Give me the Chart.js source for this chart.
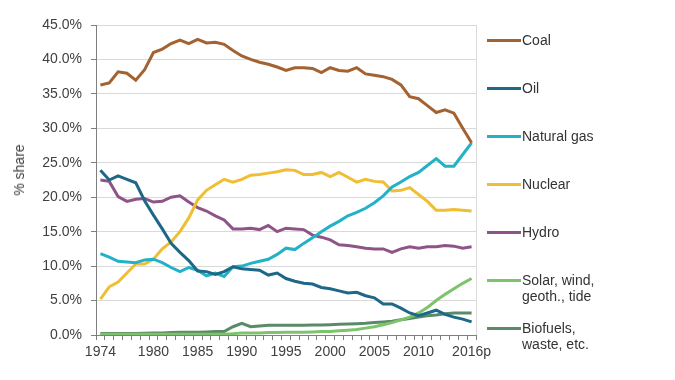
<!DOCTYPE html>
<html>
<head>
<meta charset="utf-8">
<script src="https://cdn.jsdelivr.net/npm/chart.js@4.4.1/dist/chart.umd.min.js"></script>
<style>
  html, body { margin: 0; padding: 0; background: #fff; }
  #wrap { position: relative; width: 675px; height: 380px; font-family: "Liberation Sans", Arial, sans-serif; }
  #c { position: absolute; left: 0; top: 0; }
  #ytitle { position: absolute; left: 19px; top: 170px; transform: translate(-50%, -50%) rotate(-90deg); font-size: 14px; color: #404040; white-space: nowrap; }
  .lg { position: absolute; left: 487px; display: flex; align-items: flex-start; font-size: 14px; line-height: 16px; color: #333; }
  .lg .ln { width: 34px; height: 3px; margin-top: 7px; margin-right: 1px; flex: none; }
  .lg .tx { white-space: pre; }
</style>
</head>
<body>
<div id="wrap">
  <canvas id="c" width="675" height="380"></canvas>
  <div id="ytitle">% share</div>
  <div id="legend"></div>
</div>
<script>
// ---- categories ----
const years = [1974,1975,1976,1977,1978,1979,1980,1981,1982,1983,1984,1985,1986,1987,1988,1989,1990,1991,1992,1993,1994,1995,1996,1997,1998,1999,2000,2001,2002,2003,2004,2005,2006,2007,2008,2009,2010,2011,2012,2013,2014,2015,2016];
const tickLabels = ['1974','','','','','','1980','','','','','1985','','','','','1990','','','','','1995','','','','','2000','','','','','2005','','','','','2010','','','','','','2016p'];
const yTicks = [0,5,10,15,20,25,30,35,40,45];

// ---- series (% share) ----
const coal = [36.3,36.6,38.2,38.0,37.0,38.5,41.0,41.5,42.3,42.8,42.3,42.9,42.4,42.5,42.2,41.3,40.5,40.0,39.6,39.3,38.9,38.4,38.8,38.8,38.7,38.1,38.8,38.4,38.3,38.8,37.9,37.7,37.5,37.1,36.3,34.6,34.3,33.3,32.3,32.7,32.2,30.0,27.9];
const oil = [23.9,22.5,23.1,22.6,22.1,19.5,17.4,15.4,13.3,12.0,10.8,9.3,9.2,8.8,9.2,9.9,9.6,9.5,9.4,8.7,9.0,8.2,7.8,7.5,7.4,6.9,6.7,6.4,6.1,6.2,5.7,5.4,4.5,4.5,3.9,3.2,2.8,3.2,3.6,3.0,2.6,2.3,1.9];
const naturalGas = [11.8,11.3,10.7,10.6,10.5,10.9,11.0,10.5,9.8,9.2,9.8,9.4,8.6,9.0,8.5,9.9,10.0,10.4,10.7,11.0,11.7,12.6,12.4,13.3,14.1,15.0,15.8,16.5,17.3,17.8,18.4,19.2,20.2,21.5,22.2,23.0,23.6,24.6,25.6,24.5,24.5,26.2,27.9];
const nuclear = [5.2,7.0,7.7,9.0,10.3,10.3,11.0,12.5,13.5,15.0,17.0,19.6,21.0,21.8,22.6,22.2,22.6,23.2,23.3,23.5,23.7,24.0,23.9,23.3,23.3,23.6,23.0,23.6,22.9,22.2,22.6,22.3,22.2,20.9,21.0,21.4,20.4,19.4,18.1,18.1,18.2,18.1,18.0];
const hydro = [22.5,22.3,20.1,19.4,19.7,19.8,19.3,19.4,20.0,20.2,19.3,18.5,18.0,17.3,16.7,15.4,15.4,15.5,15.3,15.9,15.0,15.5,15.4,15.3,14.5,14.2,13.8,13.1,13.0,12.8,12.6,12.5,12.5,12.0,12.5,12.8,12.6,12.8,12.8,13.0,12.9,12.6,12.8];
const solarWind = [0.1,0.1,0.1,0.1,0.1,0.1,0.1,0.1,0.1,0.1,0.1,0.1,0.1,0.1,0.1,0.2,0.3,0.3,0.3,0.35,0.35,0.4,0.4,0.4,0.45,0.5,0.5,0.6,0.7,0.8,1.0,1.2,1.5,1.8,2.2,2.6,3.2,4.0,5.0,5.9,6.7,7.5,8.2];
const biofuels = [0.2,0.2,0.2,0.2,0.2,0.25,0.3,0.3,0.35,0.4,0.4,0.4,0.45,0.5,0.5,1.2,1.7,1.2,1.3,1.4,1.4,1.4,1.4,1.4,1.45,1.45,1.5,1.55,1.6,1.65,1.7,1.8,1.9,2.0,2.2,2.4,2.6,2.8,2.9,3.1,3.2,3.2,3.2];

const seriesNames = ['Coal','Oil','Natural gas','Nuclear','Hydro','Solar, wind, geoth., tide','Biofuels, waste, etc.'];
const legendLabels = ['Coal','Oil','Natural gas','Nuclear','Hydro','Solar, wind,\ngeoth., tide','Biofuels,\nwaste, etc.'];
const seriesData = [coal, oil, naturalGas, nuclear, hydro, solarWind, biofuels];

// ---- styles ----
const seriesColors = ['#A3622F','#1E6887','#22B2C8','#F0BE32','#8E5488','#7CC46C','#5B8A68'];
const textColor = '#404040';
const gridColor = '#D9D9D9';
const axisColor = '#7F7F7F';

const rightBorder = {
  id: 'rightBorder',
  afterDraw(chart) {
    const a = chart.chartArea, ctx = chart.ctx;
    ctx.save();
    ctx.strokeStyle = gridColor;
    ctx.lineWidth = 1;
    ctx.beginPath();
    ctx.moveTo(Math.round(a.right) + 0.5, a.top);
    ctx.lineTo(Math.round(a.right) + 0.5, a.bottom);
    ctx.stroke();
    ctx.restore();
  }
};

const datasets = seriesData.map((d, i) => ({
  label: seriesNames[i],
  data: d,
  borderColor: seriesColors[i],
  backgroundColor: seriesColors[i],
  borderWidth: 3,
  pointRadius: 0,
  tension: 0,
  fill: false
}));

new Chart(document.getElementById('c'), {
  type: 'line',
  data: { labels: years.map(String), datasets },
  options: {
    responsive: false,
    animation: false,
    devicePixelRatio: 1,
    layout: { padding: { left: 0, top: 25, right: 199, bottom: 0 } },
    plugins: { legend: { display: false }, tooltip: { enabled: false } },
    scales: {
      x: {
        type: 'category',
        offset: true,
        grid: { display: true, drawOnChartArea: false, drawTicks: true, tickLength: 5, tickColor: axisColor, offset: true },
        border: { display: true, color: axisColor, width: 1 },
        ticks: {
          autoSkip: false, maxRotation: 0, minRotation: 0, padding: 4,
          color: textColor, font: { family: '"Liberation Sans", Arial, sans-serif', size: 14 },
          callback: (v, i) => tickLabels[i]
        },
        afterFit: (s) => { s.height = 45; }
      },
      y: {
        min: 0, max: 45,
        afterBuildTicks: (s) => { s.ticks = yTicks.map(v => ({ value: v })); },
        grid: { color: gridColor, lineWidth: 1, drawTicks: true, tickLength: 5, tickColor: axisColor },
        border: { display: true, color: axisColor, width: 1 },
        ticks: {
          padding: 9, color: textColor,
          font: { family: '"Liberation Sans", Arial, sans-serif', size: 14 },
          callback: (v) => v.toFixed(1) + '%'
        },
        afterFit: (s) => { s.width = 96; }
      }
    }
  },
  plugins: [rightBorder]
});

// ---- legend (HTML text) ----
const lg = document.getElementById('legend');
legendLabels.forEach((t, i) => {
  const el = document.createElement('div');
  el.className = 'lg';
  el.style.top = (32 + i * 48) + 'px';
  const ln = document.createElement('div');
  ln.className = 'ln';
  ln.style.background = seriesColors[i];
  const tx = document.createElement('div');
  tx.className = 'tx';
  tx.textContent = t;
  el.appendChild(ln); el.appendChild(tx);
  lg.appendChild(el);
});
</script>
</body>
</html>
